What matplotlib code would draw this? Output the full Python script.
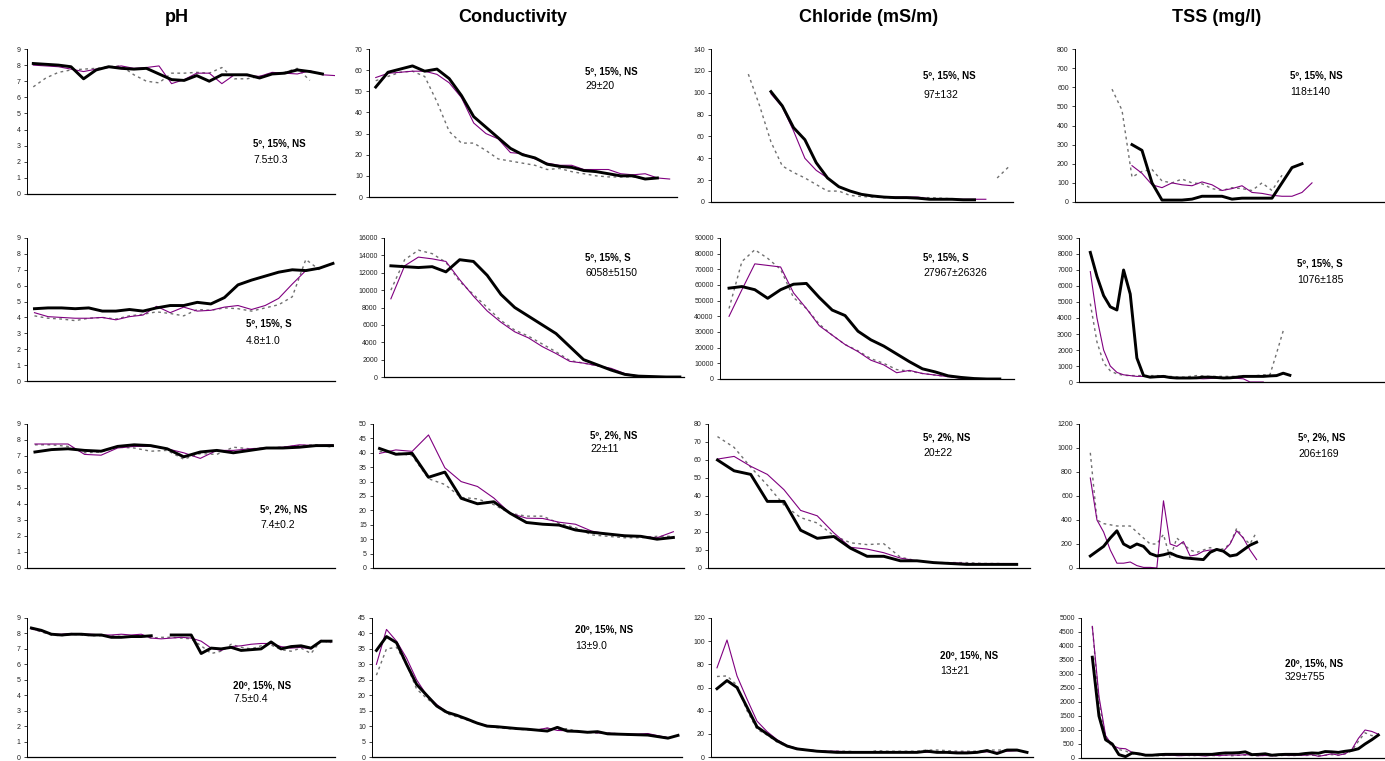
import numpy as np
import matplotlib
matplotlib.use("Agg")
import matplotlib.pyplot as plt

plt.rcParams["font.family"] = ["Liberation Sans", "DejaVu Sans"]

nan = np.nan

# -----------------------------
# column titles / panel labels
# -----------------------------
col_titles = ["pH", "Conductivity", "Chloride (mS/m)", "TSS (mg/l)"]
row_labels = ["5º, 15%, NS", "5º, 15%, S", "5º, 2%, NS", "20º, 15%, NS"]
stats = [
    ["7.5±0.3", "29±20", "97±132", "118±140"],
    ["4.8±1.0", "6058±5150", "27967±26326", "1076±185"],
    ["7.4±0.2", "22±11", "20±22", "206±169"],
    ["7.5±0.4", "13±9.0", "13±21", "329±755"],
]
y_max = [[9, 70, 140, 800], [9, 16000, 90000, 9000], [9, 50, 80, 1200], [9, 45, 120, 5000]]
y_step = [[1, 10, 20, 100], [1, 2000, 10000, 1000], [1, 5, 10, 200], [1, 5, 20, 500]]

# -----------------------------
# row 1 : 5º, 15%, NS
# -----------------------------
ph1_thick = [8.1, 8.05, 8.0, 7.9, 7.15, 7.7, 7.9, 7.8, 7.75, 7.8, 7.45, 7.1, 7.05, 7.35, 7.0, 7.4, 7.4, 7.4, 7.2, 7.45, 7.5, 7.7, 7.6, 7.45, nan]
ph1_thin = [8.0, 7.95, 7.9, 7.75, 7.6, 7.75, 7.85, 7.95, 7.8, 7.85, 7.95, 6.85, 7.1, 7.5, 7.5, 6.85, 7.4, 7.35, 7.3, 7.55, 7.5, 7.45, 7.65, 7.4, 7.35]
ph1_dot = [6.65, 7.2, 7.55, 7.7, 7.75, 7.8, 7.9, 7.95, 7.4, 7.0, 6.9, 7.5, 7.5, 7.55, 7.5, 7.85, 7.15, 7.15, 7.3, 7.5, 7.55, 7.8, 7.05, nan, nan]

cond1_thick = [52, 59, 60.5, 62, 59.5, 60.5, 56, 48, 38, 33, 28, 23, 20, 18.5, 15.5, 14.5, 14, 12.5, 12, 11, 10, 10, 8.5, 9, nan]
cond1_thin = [56.5, 58.5, 59, 59.5, 59.5, 58, 54, 47, 35, 30, 27.5, 21, 20.5, 18, 16, 15, 15, 13, 13, 13, 11, 10.5, 11, 9, 8.5]
cond1_dot = [55, 57, 59, 59.5, 57, 45, 31, 25.5, 25.5, 22, 18, 17, 16, 15, 13, 13.5, 12, 11, 10, 9.5, 9.5, 9.5, 8.5, 9, nan]

chl1_thick = [nan, nan, 101, 88, 68, 57, 36, 22, 14, 10, 7, 5.5, 4.5, 4, 4, 3.5, 2.5, 2.5, 2.5, 2, 2, nan, nan, nan]
chl1_thin = [nan, nan, 99, 87, 65, 40, 29, 22, 14, 10, 7, 5.5, 4.5, 4.5, 4.5, 4.5, 3, 3, 2.5, 2.5, 2.5, 2.5, nan, nan]
chl1_dot = [117, 88, 55, 33, 27, 22, 16, 10, 10, 6, 5, 4.5, 4, 4, 4, 4, 4, 3.5, 3, nan, nan, nan, 22, 32]

tss1_thick = [nan, nan, 300, 270, 100, 10, 10, 10, 15, 30, 30, 30, 15, 20, 20, 20, 20, 100, 180, 200, nan]
tss1_thin = [nan, nan, 190, 150, 90, 75, 100, 90, 85, 105, 90, 60, 70, 85, 50, 45, 35, 30, 30, 50, 100]
tss1_dot = [590, 480, 130, 160, 170, 110, 100, 120, 100, 95, 70, 60, 75, 70, 60, 100, 60, 140, nan, nan, nan]

# -----------------------------
# row 2 : 5º, 15%, S
# -----------------------------
ph2_thick = [4.55, 4.6, 4.6, 4.55, 4.6, 4.4, 4.4, 4.5, 4.4, 4.6, 4.75, 4.75, 4.95, 4.85, 5.25, 6.05, 6.35, 6.6, 6.85, 7.0, 6.95, 7.1, 7.4]
ph2_thin = [4.3, 4.05, 4.0, 3.95, 3.95, 4.0, 3.85, 4.05, 4.15, 4.7, 4.3, 4.65, 4.4, 4.45, 4.65, 4.75, 4.5, 4.75, 5.2, 6.1, 6.95, nan, nan]
ph2_dot = [4.1, 3.95, 3.9, 3.8, 3.95, 4.0, 3.9, 4.1, 4.2, 4.35, 4.25, 4.1, 4.5, 4.45, 4.6, 4.55, 4.4, 4.6, 4.8, 5.3, 7.65, 7.0, nan]

cond2_thick = [12800, 12700, 12600, 12700, 12100, 13500, 13300, 11700, 9500, 8000, 7000, 6000, 5000, 3500, 2000, 1400, 800, 300, 100, 50, 0, 0]
cond2_thin = [9000, 12800, 13800, 13600, 13300, 11200, 9300, 7600, 6300, 5200, 4500, 3500, 2700, 1800, 1600, 1300, 1000, 400, 100, 0, 0, nan]
cond2_dot = [10000, 13500, 14600, 14200, 13200, 11000, 9500, 8000, 6500, 5400, 4700, 3800, 2900, 1900, 1600, 1300, 900, 300, 100, 0, 0, nan]

chl2_thick = [58000, 59000, 57000, 51500, 57000, 60500, 61000, 52000, 44000, 40500, 30500, 25000, 21000, 16000, 11000, 6500, 4500, 2000, 1000, 300, 0, 0, nan]
chl2_thin = [40000, 57000, 73500, 72500, 71500, 55000, 45000, 34000, 28000, 22000, 17500, 12000, 9000, 4000, 5500, 3500, 2500, 1500, 500, 0, 0, nan, nan]
chl2_dot = [45000, 75000, 82500, 77000, 70000, 52000, 45000, 35000, 28000, 22000, 18000, 13000, 10000, 6000, 5000, 3500, 2500, 1500, 500, 0, 0, nan, nan]

tss2_thick = [8100, 6600, 5400, 4700, 4500, 7000, 5500, 1500, 400, 300, 330, 350, 280, 250, 250, 250, 260, 300, 300, 280,
              250, 260, 300, 350, 350, 350, 350, 380, 400, 550, 420]
tss2_thin = [6900, 4000, 2000, 1000, 600, 450, 400, 350, 350, 330, 300, 300, 280, 260, 250, 230, 220, 200, 220, 250,
             250, 250, 230, 200, 0, 0, 0, nan, nan, nan, nan]
tss2_dot = [4900, 2500, 1200, 700, 500, 420, 400, 400, 400, 400, 400, 380, 350, 320, 300, 350, 400, 380, 350, 350,
            350, 350, 350, 350, 380, 400, 450, 450, 1800, 3200, nan]

# -----------------------------
# row 3 : 5º, 2%, NS
# -----------------------------
ph3_thick = [7.25, 7.4, 7.45, 7.35, 7.3, 7.6, 7.7, 7.65, 7.45, 6.95, 7.25, 7.35, 7.2, 7.35, 7.5, 7.5, 7.55, 7.65, 7.65]
ph3_thin = [7.75, 7.75, 7.75, 7.1, 7.05, 7.5, 7.6, 7.6, 7.45, 7.2, 6.85, 7.35, 7.35, 7.45, 7.5, 7.55, 7.7, 7.65, 7.7]
ph3_dot = [7.7, 7.7, 7.6, 7.2, 7.25, 7.55, 7.5, 7.3, 7.35, 6.8, 7.15, 7.1, 7.55, 7.45, 7.5, 7.55, 7.65, 7.7, 7.55]

cond3_thick = [41.5, 39.5, 39.8, 31.5, 33.3, 24.2, 22.3, 23, 19, 15.8, 15.2, 14.9, 13.2, 12.4, 11.8, 11.2, 11, 10, 10.6]
cond3_thin = [39.8, 41, 40.5, 46.2, 34.8, 30, 28.3, 24.3, 19, 17.3, 17.2, 15.9, 15.2, 12.8, 11.8, 11.3, 11, 10.5, 12.6]
cond3_dot = [40.5, 40, 39, 31, 29, 24.5, 24, 22, 19, 18, 18, 15.5, 14, 11.5, 11, 10.5, 10.5, 11, 11]

chl3_thick = [60, 54, 52, 37, 37, 21, 16.5, 17.5, 11, 6.5, 6.5, 4, 4, 3, 2.5, 2, 2, 2, 2]
chl3_thin = [60.5, 62, 56.5, 52, 43.5, 32, 29, 19.5, 11.5, 10.5, 8.5, 5.5, 4, 3, 3, 2.5, 2.5, 2.5, 2.5]
chl3_dot = [73, 67, 56, 46, 35, 28, 25, 18, 14, 13, 13.5, 6, 4, 3, 3, 3, 2.5, 2.5, 2]

tss3_thick = [100, 140, 180, 250, 310, 200, 170, 200, 180, 120, 100, 110, 125, 100, 85, 80, 75, 70, 130, 155,
              140, 100, 110, 150, 190, 215]
tss3_thin = [750, 400, 300, 150, 40, 40, 50, 20, 5, 5, 0, 560, 200, 180, 220, 100, 110, 140, 150, 150,
             140, 200, 310, 250, 150, 70]
tss3_dot = [960, 400, 370, 360, 350, 350, 350, 300, 250, 200, 200, 280, 80, 250, 200, 150, 130, 150, 170, 150,
            160, 200, 330, 250, 200, 300]

# -----------------------------
# row 4 : 20º, 15%, NS
# -----------------------------
ph4_thick = [8.35, 8.2, 7.95, 7.9, 7.95, 7.95, 7.9, 7.9, 7.75, 7.75, 7.8, 7.8, 7.85, nan, 7.9, 7.9, 7.9, 6.7, 7.05, 7.0,
             7.1, 6.9, 6.95, 7.0, 7.45, 7.0, 7.15, 7.2, 7.05, 7.5, 7.5]
ph4_thin = [8.3, 8.15, 7.95, 7.95, 8.0, 7.95, 7.95, 7.9, 7.9, 7.95, 7.9, 7.95, 7.7, 7.65, 7.7, 7.75, 7.7, 7.5, 7.05, 6.9,
            7.15, 7.2, 7.3, 7.35, 7.35, 7.15, 7.05, 7.1, 7.0, 7.55, 7.45]
ph4_dot = [8.3, 8.1, 7.9, 7.85, 7.95, 7.9, 7.85, 7.85, 7.85, 7.8, 7.8, 7.85, 7.7, 7.75, 7.75, 7.7, 7.65, 7.2, 6.7, 6.85,
           7.3, 7.1, 7.0, 7.2, 7.25, 6.95, 6.85, 7.05, 6.7, 7.55, 7.4]

cond4_thick = [34.5, 39, 37, 30, 23.5, 20, 16.5, 14.5, 13.5, 12.3, 11, 10, 9.8, 9.5, 9.2, 9, 8.7, 8.4, 9.6, 8.4,
               8.3, 8, 8.2, 7.5, 7.4, 7.3, 7.2, 7.1, 6.6, 6.1, 7.0]
cond4_thin = [30, 41.3, 37.5, 32, 25, 20, 17, 14.5, 13.5, 12.2, 11, 10.2, 9.8, 9.4, 9.2, 9.0, 8.8, 9.4, 8.6, 8.5,
              8.2, 8.2, 7.8, 7.7, 7.6, 7.4, 7.4, 7.6, 6.9, 6.3, nan]
cond4_dot = [26.5, 35, 35.5, 30, 22, 19, 16.5, 14, 13, 12, 10.8, 10, 9.5, 9.2, 9, 8.8, 8.7, 9.3, 8.8, 9.2,
             8.2, 8, 7.7, 7.8, 7.5, 7.2, 7.2, 7.4, 6.8, 6.3, nan]

chl4_thick = [59, 66, 60, 43, 26, 20, 14, 9.5, 7, 6, 5, 4.5, 4, 4, 4, 4, 4, 4, 4, 4,
              4, 5, 4, 4, 3.5, 3.5, 4, 5.5, 3, 6, 6, 4]
chl4_thin = [77, 101, 70, 50, 31, 22, 15, 10, 7.5, 6, 5.5, 5, 5, 4.5, 4.5, 4, 4, 4, 4, 4,
             4, 4, 4.5, 4, 4, 4, 4, 4.5, 4, 5, 5.5, nan]
chl4_dot = [69.5, 70, 62, 40, 24, 19, 13, 9, 7, 6, 5.5, 5, 5, 5, 4.5, 4, 5.5, 5, 5, 5,
            5, 6, 6, 5.5, 5, 5, 5, 6, 6, 6, nan, nan]

tss4_thick = [3600, 1500, 650, 500, 120, 50, 180, 150, 100, 100, 120, 130, 130, 130, 130, 130, 130, 130, 130, 160,
              180, 180, 190, 220, 120, 130, 150, 100, 120, 130, 130, 130, 160, 180, 170, 230, 220, 200, 240, 270,
              330, 500, 650, 820]
tss4_thin = [4700, 2200, 800, 450, 350, 330, 200, 150, 120, 100, 90, 100, 100, 80, 90, 100, 90, 70, 100, 90,
             100, 110, 100, 120, 100, 80, 90, 80, 90, 100, 90, 100, 100, 120, 60, 100, 150, 100, 150, 300,
             700, 1000, 950, 850]
tss4_dot = [4700, 2000, 700, 400, 300, 250, 150, 120, 100, 100, 80, 90, 100, 90, 100, 80, 100, 100, 90, 80,
            100, 80, 100, 100, 90, 80, 100, 70, 80, 100, 80, 100, 90, 100, 80, 100, 120, 100, 150, 250,
            600, 900, 800, 800]

series = [
    [(ph1_thick, ph1_thin, ph1_dot), (cond1_thick, cond1_thin, cond1_dot),
     (chl1_thick, chl1_thin, chl1_dot), (tss1_thick, tss1_thin, tss1_dot)],
    [(ph2_thick, ph2_thin, ph2_dot), (cond2_thick, cond2_thin, cond2_dot),
     (chl2_thick, chl2_thin, chl2_dot), (tss2_thick, tss2_thin, tss2_dot)],
    [(ph3_thick, ph3_thin, ph3_dot), (cond3_thick, cond3_thin, cond3_dot),
     (chl3_thick, chl3_thin, chl3_dot), (tss3_thick, tss3_thin, tss3_dot)],
    [(ph4_thick, ph4_thin, ph4_dot), (cond4_thick, cond4_thin, cond4_dot),
     (chl4_thick, chl4_thin, chl4_dot), (tss4_thick, tss4_thin, tss4_dot)],
]

# -----------------------------
# layout (pixels)
# -----------------------------
W, H = 1385, 761
ax_left = [[27, 369, 711, 1075], [27, 384, 720, 1079], [27, 373, 708, 1079], [27, 372, 711, 1081]]
ax_right = [[335, 677, 1013, 1385], [335, 684, 1014, 1385], [335, 684, 1030, 1385], [335, 682, 1033, 1385]]
ax_top = [49, 238, 424, 618]
ax_bottom = [[194, 197, 202, 202], [381, 377, 379, 382], [568, 568, 568, 568], [757, 757, 757, 758]]
x_lims = [
    [(-0.5, 24.0), (-0.55, 24.6), (-3.3, 23.4), (-3.7, 27.3)],
    [(-0.55, 22.15), (-0.5, 21.3), (-0.7, 22.1), (-1.7, 44.3)],
    [(-0.48, 18.15), (-0.4, 18.65), (-0.57, 18.8), (-1.7, 44.3)],
    [(-0.44, 30.4), (-0.44, 30.4), (-0.6, 31.6), (-1.7, 44.0)],
]
label_pos = [
    [(253, 143, 160), (585, 71, 86), (923, 76, 95), (1290, 75, 92)],
    [(246, 323, 341), (585, 258, 273), (923, 258, 273), (1297, 263, 280)],
    [(260, 510, 525), (590, 435, 449), (923, 437, 453), (1298, 437, 454)],
    [(233, 685, 699), (575, 630, 646), (940, 656, 671), (1285, 663, 677)],
]
title_x = [177, 513, 869, 1217]

fig = plt.figure(figsize=(W / 100, H / 100), dpi=100)
fig.patch.set_facecolor("white")

for c, t in enumerate(col_titles):
    fig.text(title_x[c] / W, 1 - 17 / H, t, ha="center", va="center",
             fontsize=13, fontweight="bold")

for r in range(4):
    for c in range(4):
        l, rt = ax_left[r][c], ax_right[r][c]
        t, b = ax_top[r], ax_bottom[r][c]
        ax = fig.add_axes([l / W, 1 - b / H, (rt - l) / W, (b - t) / H])

        thick, thin, dot = series[r][c]
        x = np.arange(len(thick))
        ax.plot(x, dot, color="#707070", lw=1.0, linestyle=(0, (2, 2.5)))
        ax.plot(x, thin, color="#800080", lw=0.8)
        ax.plot(x, thick, color="black", lw=2.1)

        ax.set_xlim(*x_lims[r][c])
        ax.set_ylim(0, y_max[r][c])
        ax.set_yticks(np.arange(0, y_max[r][c] + 1, y_step[r][c]))
        ax.set_xticks([])
        ax.tick_params(axis="y", labelsize=5, length=2.5, width=0.6, pad=2, colors="#222222")
        for s in ["top", "right"]:
            ax.spines[s].set_visible(False)
        ax.spines["left"].set_linewidth(0.7)
        ax.spines["bottom"].set_linewidth(0.9)
        ax.patch.set_alpha(0)

        lx, ly1, ly2 = label_pos[r][c]
        fig.text(lx / W, 1 - ly1 / H, row_labels[r], ha="left", va="center",
                 fontsize=7, fontweight="bold")
        fig.text(lx / W, 1 - ly2 / H, stats[r][c], ha="left", va="center",
                 fontsize=7.5)

plt.savefig("out.png", dpi=100)
